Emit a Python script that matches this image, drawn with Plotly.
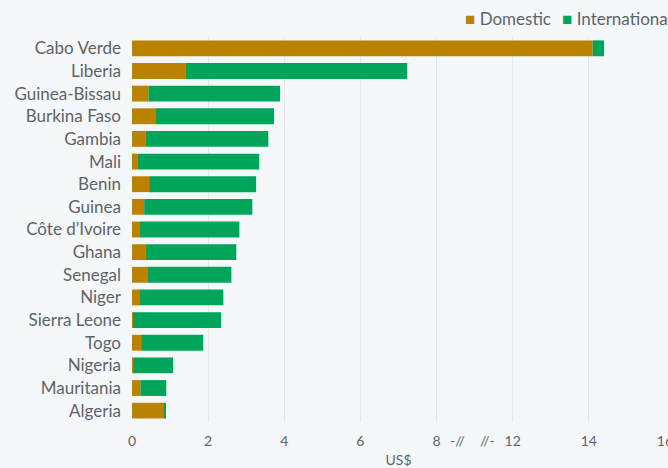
import plotly.graph_objects as go

countries = ["Cabo Verde", "Liberia", "Guinea-Bissau", "Burkina Faso", "Gambia", "Mali",
             "Benin", "Guinea", "Côte d’Ivoire", "Ghana", "Senegal", "Niger",
             "Sierra Leone", "Togo", "Nigeria", "Mauritania", "Algeria"]
domestic = [14.1, 1.40, 0.43, 0.61, 0.35, 0.14, 0.45, 0.32, 0.21, 0.35, 0.40, 0.19,
            0.03, 0.24, 0.04, 0.22, 0.85]
total = [14.4, 7.23, 3.89, 3.73, 3.58, 3.34, 3.26, 3.16, 2.82, 2.74, 2.61, 2.40,
         2.34, 1.87, 1.08, 0.90, 0.87]
international = [round(t - d, 2) for t, d in zip(total, domestic)]

tick_values = [0, 2, 4, 6, 8, 12, 14, 16]
tick_labels = ["0", "2", "4", "6", "8", "12", "14", "16"]

BREAK_LO, BREAK_HI = 8, 10  # axis break: 8..10 removed


def disp(v):
    return v if v <= BREAK_LO else v - (BREAK_HI - BREAK_LO)


dom_d = [disp(d) for d in domestic]
int_d = [disp(d + i) - disp(d) for d, i in zip(domestic, international)]

FONT = "Lato"
GREY = "#5f6368"
BG = "#f5f8fa"
C_DOM = "#b98300"
C_INT = "#00a45a"

W, H = 668, 468
ML, MR, MT, MB = 132, 3, 37, 46
PW, PH = W - ML - MR, H - MT - MB

fig = go.Figure()
fig.add_trace(go.Bar(y=countries, x=dom_d, orientation="h", name="Domestic",
                     marker=dict(color=C_DOM, line=dict(width=0))))
fig.add_trace(go.Bar(y=countries, x=int_d, base=dom_d, orientation="h", name="International",
                     marker=dict(color=C_INT, line=dict(width=0))))

fig.update_layout(
    width=W, height=H,
    barmode="overlay",
    bargap=0.3,
    paper_bgcolor=BG, plot_bgcolor=BG,
    margin=dict(l=ML, r=MR, t=MT, b=MB, autoexpand=False),
    font=dict(family=FONT, color=GREY, size=16),
    showlegend=False,
    xaxis=dict(range=[0, disp(16) + 0.001], tickvals=[disp(v) for v in tick_values], ticktext=tick_labels,
               showgrid=True, gridcolor="#e4e8eb", gridwidth=1, zeroline=False,
               showline=False, ticks="", tickfont=dict(size=14, color=GREY), automargin=False,
               ticklabelstandoff=9, ticklabeloverflow="allow",
               title=dict(text="US$", font=dict(size=14, color=GREY), standoff=7)),
    yaxis=dict(autorange="reversed", showgrid=False, ticks="", showline=False, automargin=False,
               tickfont=dict(size=17, color=GREY), ticklabelstandoff=10),
)

for xpos, txt in [(8.56, "-//"), (9.33, "//-")]:
    fig.add_annotation(x=xpos, y=0, xref="x", yref="paper", text=txt, showarrow=False,
                       font=dict(size=14, color=GREY), yanchor="middle", yshift=-18)

# legend (drawn as text)
for xpix, name, col in [(463, "Domestic", C_DOM), (560, "International", C_INT)]:
    fig.add_annotation(x=(xpix - ML) / PW, y=(H - MB - 18) / PH, xref="paper", yref="paper",
                       xanchor="left", yanchor="middle", showarrow=False,
                       text=f"<span style='color:{col}'>■</span> {name}",
                       font=dict(size=17, color=GREY))

fig.write_html("out.html", config={"displayModeBar": False},
               post_script="document.body.style.margin='0';document.body.style.background='%s';" % BG)
